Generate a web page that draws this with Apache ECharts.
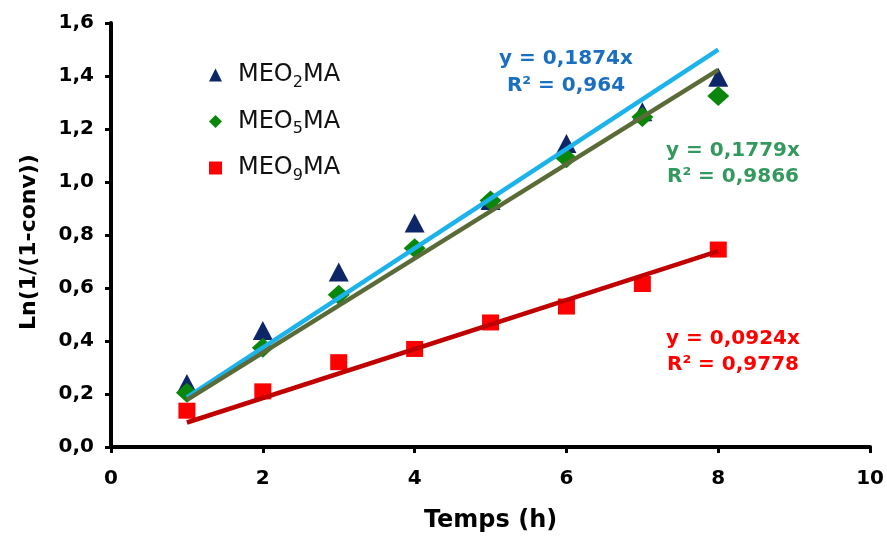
<!DOCTYPE html>
<html>
<head>
<meta charset="utf-8">
<script src="https://cdn.jsdelivr.net/npm/echarts@6/dist/echarts.min.js"></script>
<style>html,body{margin:0;padding:0;background:#fff}#c{width:887px;height:538px}</style>
</head>
<body>
<div id="c"></div>
<script>
// ---- data ----
const times = [1, 2, 3, 4, 5, 6, 7, 8];
const meo2ma = [0.24, 0.44, 0.66, 0.845, 0.93, 1.145, 1.265, 1.395];
const meo5ma = [0.205, 0.375, 0.575, 0.75, 0.93, 1.09, 1.245, 1.325];
const meo9ma = [0.137, 0.21, 0.32, 0.37, 0.47, 0.53, 0.615, 0.745];
const seriesNames = ['MEO2MA', 'MEO5MA', 'MEO9MA'];
const nameSubs = ['2', '5', '9'];
const slopes = [0.1874, 0.1779, 0.0924];
const eqLabels = ['y = 0,1874x', 'y = 0,1779x', 'y = 0,0924x'];
const r2Labels = ['R² = 0,964', 'R² = 0,9866', 'R² = 0,9778'];
const xTicks = [0, 2, 4, 6, 8, 10];
const yTicks = [0, 0.2, 0.4, 0.6, 0.8, 1.0, 1.2, 1.4, 1.6];

const FONT = 'DejaVu Sans';
const markerColors = ['#0c2668', '#0a870a', '#ff0000'];
const symbols = ['triangle', 'diamond', 'rect'];
const symbolSizes = [[20, 19], [22, 20], [17, 16]];
const lineColors = ['#1cb3ec', '#5b6b38', '#c00000'];
const textColors = ['#1a6fc0', '#34995e', '#ff0000'];

const chart = echarts.init(document.getElementById('c'), null, {renderer: 'canvas'});
const pts = [meo2ma, meo5ma, meo9ma];
const series = [];
pts.forEach((arr, i) => {
  series.push({
    name: seriesNames[i], type: 'scatter', z: 2,
    symbol: symbols[i], symbolSize: symbolSizes[i],
    itemStyle: {color: markerColors[i], opacity: 1},
    data: times.map((t, k) => [t, arr[k]])
  });
});
slopes.forEach((s, i) => {
  const x0 = times[0], x1 = times[times.length - 1];
  series.push({
    name: 'trend' + i, type: 'line', z: 3, symbol: 'none', silent: true,
    lineStyle: {color: lineColors[i], width: 4.5},
    data: [[x0, s * x0], [x1, s * x1]]
  });
});

const eqPos = [[566, 59, 86], [733, 151, 177], [733, 339, 365]];
const graphics = [];
eqPos.forEach((p, i) => {
  graphics.push({type: 'text', x: p[0], y: p[1], style: {text: eqLabels[i], fill: textColors[i], font: 'bold 20px "' + FONT + '"', textAlign: 'center', textVerticalAlign: 'middle'}});
  graphics.push({type: 'text', x: p[0], y: p[2], style: {text: r2Labels[i], fill: textColors[i], font: 'bold 20px "' + FONT + '"', textAlign: 'center', textVerticalAlign: 'middle'}});
});

const fmt = v => v.toFixed(1).replace('.', ',');

chart.setOption({
  animation: false,
  backgroundColor: '#fff',
  grid: {left: 111, right: 16, top: 23, bottom: 91, containLabel: false},
  legend: {
    data: seriesNames.map((n, i) => ({name: n, icon: symbols[i]})),
    orient: 'vertical', left: 204, top: 58, itemWidth: 13, itemHeight: 13, itemGap: 19,
    formatter: function (name) {
      const i = seriesNames.indexOf(name);
      const parts = name.split(nameSubs[i]);
      return '{n|' + parts[0] + '}{s|' + nameSubs[i] + '}{n|' + parts[1] + '}';
    },
    textStyle: {
      padding: [0, 0, 0, 11],
      rich: {
        n: {fontFamily: FONT, fontSize: 24, color: '#111'},
        s: {fontFamily: FONT, fontSize: 16, color: '#111', padding: [15, 0, 0, 0]}
      }
    }
  },
  xAxis: {
    type: 'value', min: 0, max: 10, interval: 2,
    name: 'Temps (h)', nameLocation: 'middle', nameGap: 62,
    nameTextStyle: {fontFamily: FONT, fontWeight: 'bold', fontSize: 24, color: '#000'},
    axisLine: {show: true, lineStyle: {color: '#000', width: 4}},
    axisTick: {show: true, inside: false, length: 6, lineStyle: {color: '#000', width: 3}},
    axisLabel: {fontFamily: FONT, fontWeight: 'bold', fontSize: 20, color: '#000', margin: 22, formatter: v => String(v)},
    splitLine: {show: false}
  },
  yAxis: {
    type: 'value', min: 0, max: 1.6, interval: 0.2,
    name: 'Ln(1/(1-conv))', nameLocation: 'middle', nameGap: 71, nameRotate: 90,
    nameTextStyle: {fontFamily: FONT, fontWeight: 'bold', fontSize: 22, color: '#000', padding: [0, 14, 0, 0]},
    axisLine: {show: true, lineStyle: {color: '#000', width: 4}},
    axisTick: {show: true, inside: false, length: 6, lineStyle: {color: '#000', width: 3}},
    axisLabel: {fontFamily: FONT, fontWeight: 'bold', fontSize: 20, color: '#000', margin: 17, formatter: fmt},
    splitLine: {show: false}
  },
  series: series,
  graphic: graphics
});
</script>
</body>
</html>
